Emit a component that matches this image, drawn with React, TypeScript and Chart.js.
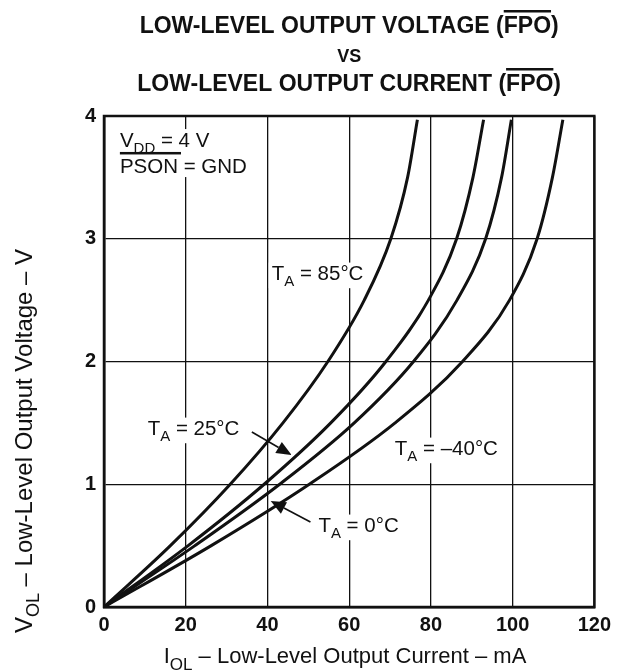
import React, { useEffect, useRef } from "react";
import { Chart, registerables } from "chart.js";

Chart.register(...registerables);

// ---- Data ----
const xTicks = [0, 20, 40, 60, 80, 100, 120];
const yTicks = [0, 1, 2, 3, 4];

// output voltage (V) sample levels, and the current (mA) read for each curve
const vLevels = [0, 0.5, 1, 1.5, 2, 2.5, 3, 3.5, 3.97];
const i85 = [0, 16.25, 30.9, 43.8, 54.8, 63.7, 70.2, 74.3, 76.7];
const i25 = [0, 20.6, 39.2, 55.5, 69.0, 79.4, 86.3, 90.3, 92.9];
const i0 = [0, 22.25, 43.0, 61.25, 75.75, 86.4, 93.4, 97.3, 99.7];
const iM40 = [0, 26.25, 50.25, 71.25, 87.75, 99.25, 106.0, 109.75, 112.3];

const seriesNames = ["TA = 85°C", "TA = 25°C", "TA = 0°C", "TA = -40°C"];

const FONT = "'Liberation Sans', Arial, Helvetica, sans-serif";

const toPts = (xs: number[], ys: number[]) => xs.map((x, k) => ({ x, y: ys[k] }));

type Part = { t: string; sub?: boolean };

function partsWidth(ctx: CanvasRenderingContext2D, parts: Part[], size: number, weight: string) {
  const subSize = Math.round(size * 0.75);
  let tot = 0;
  parts.forEach((p) => {
    ctx.font = `${weight} ${p.sub ? subSize : size}px ${FONT}`;
    tot += ctx.measureText(p.t).width;
  });
  return tot;
}

function drawParts(
  ctx: CanvasRenderingContext2D,
  parts: Part[],
  x: number,
  y: number,
  size: number,
  weight: string,
  bg: boolean
) {
  const subSize = Math.round(size * 0.75);
  const total = partsWidth(ctx, parts, size, weight);
  if (bg) {
    ctx.fillStyle = "#ffffff";
    ctx.fillRect(x - 3, y - size * 0.85, total + 6, size * 1.25);
  }
  let cx = x;
  ctx.fillStyle = "#111";
  ctx.textBaseline = "alphabetic";
  ctx.textAlign = "left";
  parts.forEach((p) => {
    ctx.font = `${weight} ${p.sub ? subSize : size}px ${FONT}`;
    ctx.fillText(p.t, cx, p.sub ? y + size * 0.3 : y);
    cx += ctx.measureText(p.t).width;
  });
  return total;
}

function arrow(ctx: CanvasRenderingContext2D, x1: number, y1: number, x2: number, y2: number) {
  const ang = Math.atan2(y2 - y1, x2 - x1);
  const L = 15;
  const W = 6.5;
  ctx.strokeStyle = "#111";
  ctx.lineWidth = 1.6;
  ctx.beginPath();
  ctx.moveTo(x1, y1);
  ctx.lineTo(x2 - L * Math.cos(ang), y2 - L * Math.sin(ang));
  ctx.stroke();
  ctx.fillStyle = "#111";
  ctx.beginPath();
  ctx.moveTo(x2, y2);
  ctx.lineTo(x2 - L * Math.cos(ang) + W * Math.sin(ang), y2 - L * Math.sin(ang) - W * Math.cos(ang));
  ctx.lineTo(x2 - L * Math.cos(ang) - W * Math.sin(ang), y2 - L * Math.sin(ang) + W * Math.cos(ang));
  ctx.closePath();
  ctx.fill();
}

const annotPlugin = {
  id: "annot",
  afterDraw(chart: any) {
    const ctx: CanvasRenderingContext2D = chart.ctx;
    const xs = chart.scales.x;
    const ys = chart.scales.y;
    const px = (v: number) => xs.getPixelForValue(v);
    const py = (v: number) => ys.getPixelForValue(v);
    const area = chart.chartArea;
    const cxTitle = (area.left + area.right) / 2;
    ctx.save();

    // Title
    ctx.fillStyle = "#111";
    ctx.textAlign = "left";
    ctx.textBaseline = "alphabetic";
    const titleLine = (pre: string, post: string, base: number) => {
      ctx.font = `bold 23px ${FONT}`;
      const full = pre + "FPO" + post;
      const w = ctx.measureText(full).width;
      const x0 = cxTitle - w / 2;
      ctx.fillText(full, x0, base);
      const a = ctx.measureText(pre).width;
      const b = ctx.measureText("FPO").width;
      ctx.fillRect(x0 + a, base - 23, b, 2.5);
    };
    titleLine("LOW-LEVEL OUTPUT VOLTAGE (", ")", 33);
    ctx.font = `bold 18px ${FONT}`;
    ctx.textAlign = "center";
    ctx.fillText("VS", cxTitle, 62);
    ctx.textAlign = "left";
    titleLine("LOW-LEVEL OUTPUT CURRENT (", ")", 91);

    // x-axis title
    {
      const parts: Part[] = [{ t: "I" }, { t: "OL", sub: true }, { t: " – Low-Level Output Current – mA" }];
      const tot = partsWidth(ctx, parts, 22, "normal");
      drawParts(ctx, parts, 345 - tot / 2, 663, 22, "normal", false);
    }
    // y-axis title
    {
      ctx.save();
      ctx.translate(32, 441);
      ctx.rotate(-Math.PI / 2);
      const parts: Part[] = [{ t: "V" }, { t: "OL", sub: true }, { t: " – Low-Level Output Voltage – V" }];
      const tot = partsWidth(ctx, parts, 24, "normal");
      drawParts(ctx, parts, -tot / 2, 0, 24, "normal", false);
      ctx.restore();
    }

    // Condition box
    {
      const x0 = px(3.89);
      const b1 = py(3.747);
      const b2 = py(3.536);
      ctx.fillStyle = "#fff";
      ctx.fillRect(x0 - 3, b1 - 18, 136, 48);
      drawParts(ctx, [{ t: "V" }, { t: "DD", sub: true }, { t: " = 4 V" }], x0, b1, 20.5, "normal", false);
      ctx.font = `20.5px ${FONT}`;
      ctx.fillStyle = "#111";
      ctx.fillText("PSON = GND", x0, b2);
      const w = ctx.measureText("PSON").width;
      ctx.fillRect(x0, b2 - 21, w + 3, 2.5);
    }

    // Temperature labels
    const lab = (name: string, ix: number, v: number) => {
      const rest = name.replace("TA", "");
      drawParts(ctx, [{ t: "T" }, { t: "A", sub: true }, { t: rest.replace("-", "–") }], px(ix), py(v), 20.5, "normal", true);
    };
    lab(seriesNames[0], 41.05, 2.664);
    lab(seriesNames[1], 10.69, 1.401);
    lab(seriesNames[2], 52.47, 0.611);
    lab(seriesNames[3], 71.17, 1.238);

    arrow(ctx, px(36.19), py(1.426), px(45.9), py(1.238));
    arrow(ctx, px(50.52), py(0.692), px(40.8), py(0.864));

    ctx.restore();
  },
};

export default function App() {
  const ref = useRef<HTMLCanvasElement | null>(null);
  useEffect(() => {
    if (!ref.current) return;
    const mk = (label: string, xs: number[], ys: number[]) => ({
      label,
      data: toPts(xs, ys),
      borderColor: "#111",
      borderWidth: 3,
      pointRadius: 0,
      fill: false,
      cubicInterpolationMode: "monotone" as const,
    });
    const chart = new Chart(ref.current, {
      type: "line",
      data: {
        datasets: [
          mk(seriesNames[0], i85, vLevels),
          mk(seriesNames[1], i25, vLevels),
          mk(seriesNames[2], i0, vLevels),
          mk(seriesNames[3], iM40, vLevels),
        ],
      },
      options: {
        animation: false,
        responsive: false,
        devicePixelRatio: 1,
        layout: { padding: { top: 116, right: 19, left: 0, bottom: 0 } },
        plugins: { legend: { display: false }, tooltip: { enabled: false }, title: { display: false } },
        scales: {
          x: {
            type: "linear",
            min: 0,
            max: 120,
            afterFit: (s: any) => {
              s.height = 64;
            },
            afterBuildTicks: (s: any) => {
              s.ticks = xTicks.map((v) => ({ value: v }));
            },
            ticks: {
              color: "#111",
              font: { family: FONT, size: 20, weight: "bold" },
              padding: 6,
              maxRotation: 0,
            },
            grid: { color: "#111", lineWidth: 1.3, drawTicks: false },
            border: { color: "#111", width: 2.5 },
          },
          y: {
            type: "linear",
            min: 0,
            max: 4,
            afterFit: (s: any) => {
              s.width = 104;
            },
            afterBuildTicks: (s: any) => {
              s.ticks = yTicks.map((v) => ({ value: v }));
            },
            ticks: {
              color: "#111",
              font: { family: FONT, size: 20, weight: "bold" },
              padding: 8,
            },
            grid: { color: "#111", lineWidth: 1.3, drawTicks: false },
            border: { color: "#111", width: 2.5 },
          },
        } as any,
      },
      plugins: [
        annotPlugin,
        {
          id: "frame",
          afterDatasetsDraw(c: any) {
            const a = c.chartArea;
            const ctx = c.ctx;
            ctx.save();
            ctx.strokeStyle = "#111";
            ctx.lineWidth = 2.5;
            ctx.strokeRect(a.left, a.top, a.right - a.left, a.bottom - a.top);
            ctx.restore();
          },
        },
      ],
    });
    return () => chart.destroy();
  }, []);
  return (
    <div style={{ position: "absolute", left: 0, top: 0, width: 617, height: 671, background: "#fff" }}>
      <canvas ref={ref} width={617} height={671} style={{ width: 617, height: 671, display: "block" }} />
    </div>
  );
}
